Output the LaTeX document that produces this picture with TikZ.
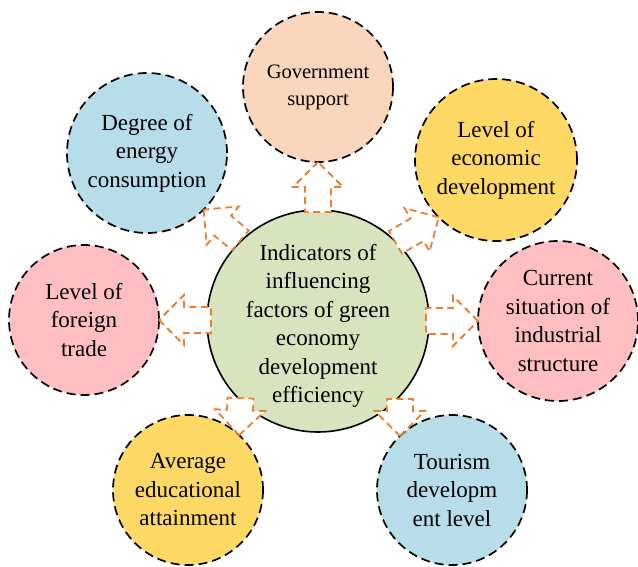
\documentclass[tikz,border=0pt]{standalone}
\usepackage{fontspec}
\setmainfont{Liberation Serif}
\usetikzlibrary{calc}

\definecolor{peach}{HTML}{F9D6BC}
\definecolor{skyblue}{HTML}{B7DDE8}
\definecolor{sunyellow}{HTML}{FFD966}
\definecolor{rosepink}{HTML}{FFBFC2}
\definecolor{sage}{HTML}{D7E4BD}
\definecolor{flowred}{HTML}{ED7D31}

\tikzset{
  factor/.style={circle, draw=black, line width=1.7pt, dash pattern=on 9pt off 5pt,
    align=center, inner sep=0pt, outer sep=0pt, font=\fontsize{23}{28.5}\selectfont},
  centre/.style={circle, draw=black, line width=1.6pt, fill=sage, minimum size=222pt,
    inner sep=0pt, outer sep=0pt},
  centretext/.style={align=center, inner sep=0pt, font=\fontsize{23}{28.5}\selectfont},
  flow/.style={draw=flowred, fill=white, line width=1.8pt, dash pattern=on 7pt off 4.5pt}
}

\begin{document}
\begin{tikzpicture}[x=1pt, y=1pt]
  \useasboundingbox (0,0) rectangle (638,-566);

  % centre and the seven factors
  \node[centre] (hub) at (318,-321) {};
  \node[centretext] (hubtext) at ([yshift=-5pt]hub.center) {Indicators of\\influencing\\factors of green\\economy\\development\\efficiency};
  \node[factor, fill=peach, minimum size=150pt, font=\fontsize{20.5}{27}\selectfont] (gov) at (318,-87) {Government\\support};
  \node[factor, fill=skyblue, minimum size=160pt] (energy) at (147,-153) {Degree of\\energy\\consumption};
  \node[factor, fill=sunyellow, minimum size=162pt] (econ) at (496,-160) {Level of\\economic\\development};
  \node[factor, fill=rosepink, minimum size=160pt] (indus) at (558,-321) {Current\\situation of\\industrial\\structure};
  \node[factor, fill=rosepink, minimum size=150pt] (trade) at (84,-320) {Level of\\foreign\\trade};
  \node[factor, fill=sunyellow, minimum size=150pt] (edu) at (188,-490) {Average\\educational\\attainment};
  \node[factor, fill=skyblue, minimum size=150pt] (tour) at (452,-490) {Tourism\\developm\\ent level};

  % hollow arrows: factor / tip anchor / direction / length
  \foreach \f/\a/\d/\l in {gov/-90/90/50, energy/-45/140/48, econ/225/30/50,
      indus/180/0/52, trade/0/180/52, edu/47/-92/37, tour/134/-90/37}{
    \draw[flow] [shift={(\f.\a)}, rotate=\d]
      (0,0) -- (-25,25) -- (-25,13) -- (-\l,13) -- (-\l,-13) -- (-25,-13) -- (-25,-25) -- cycle;
  }
\end{tikzpicture}
\end{document}
